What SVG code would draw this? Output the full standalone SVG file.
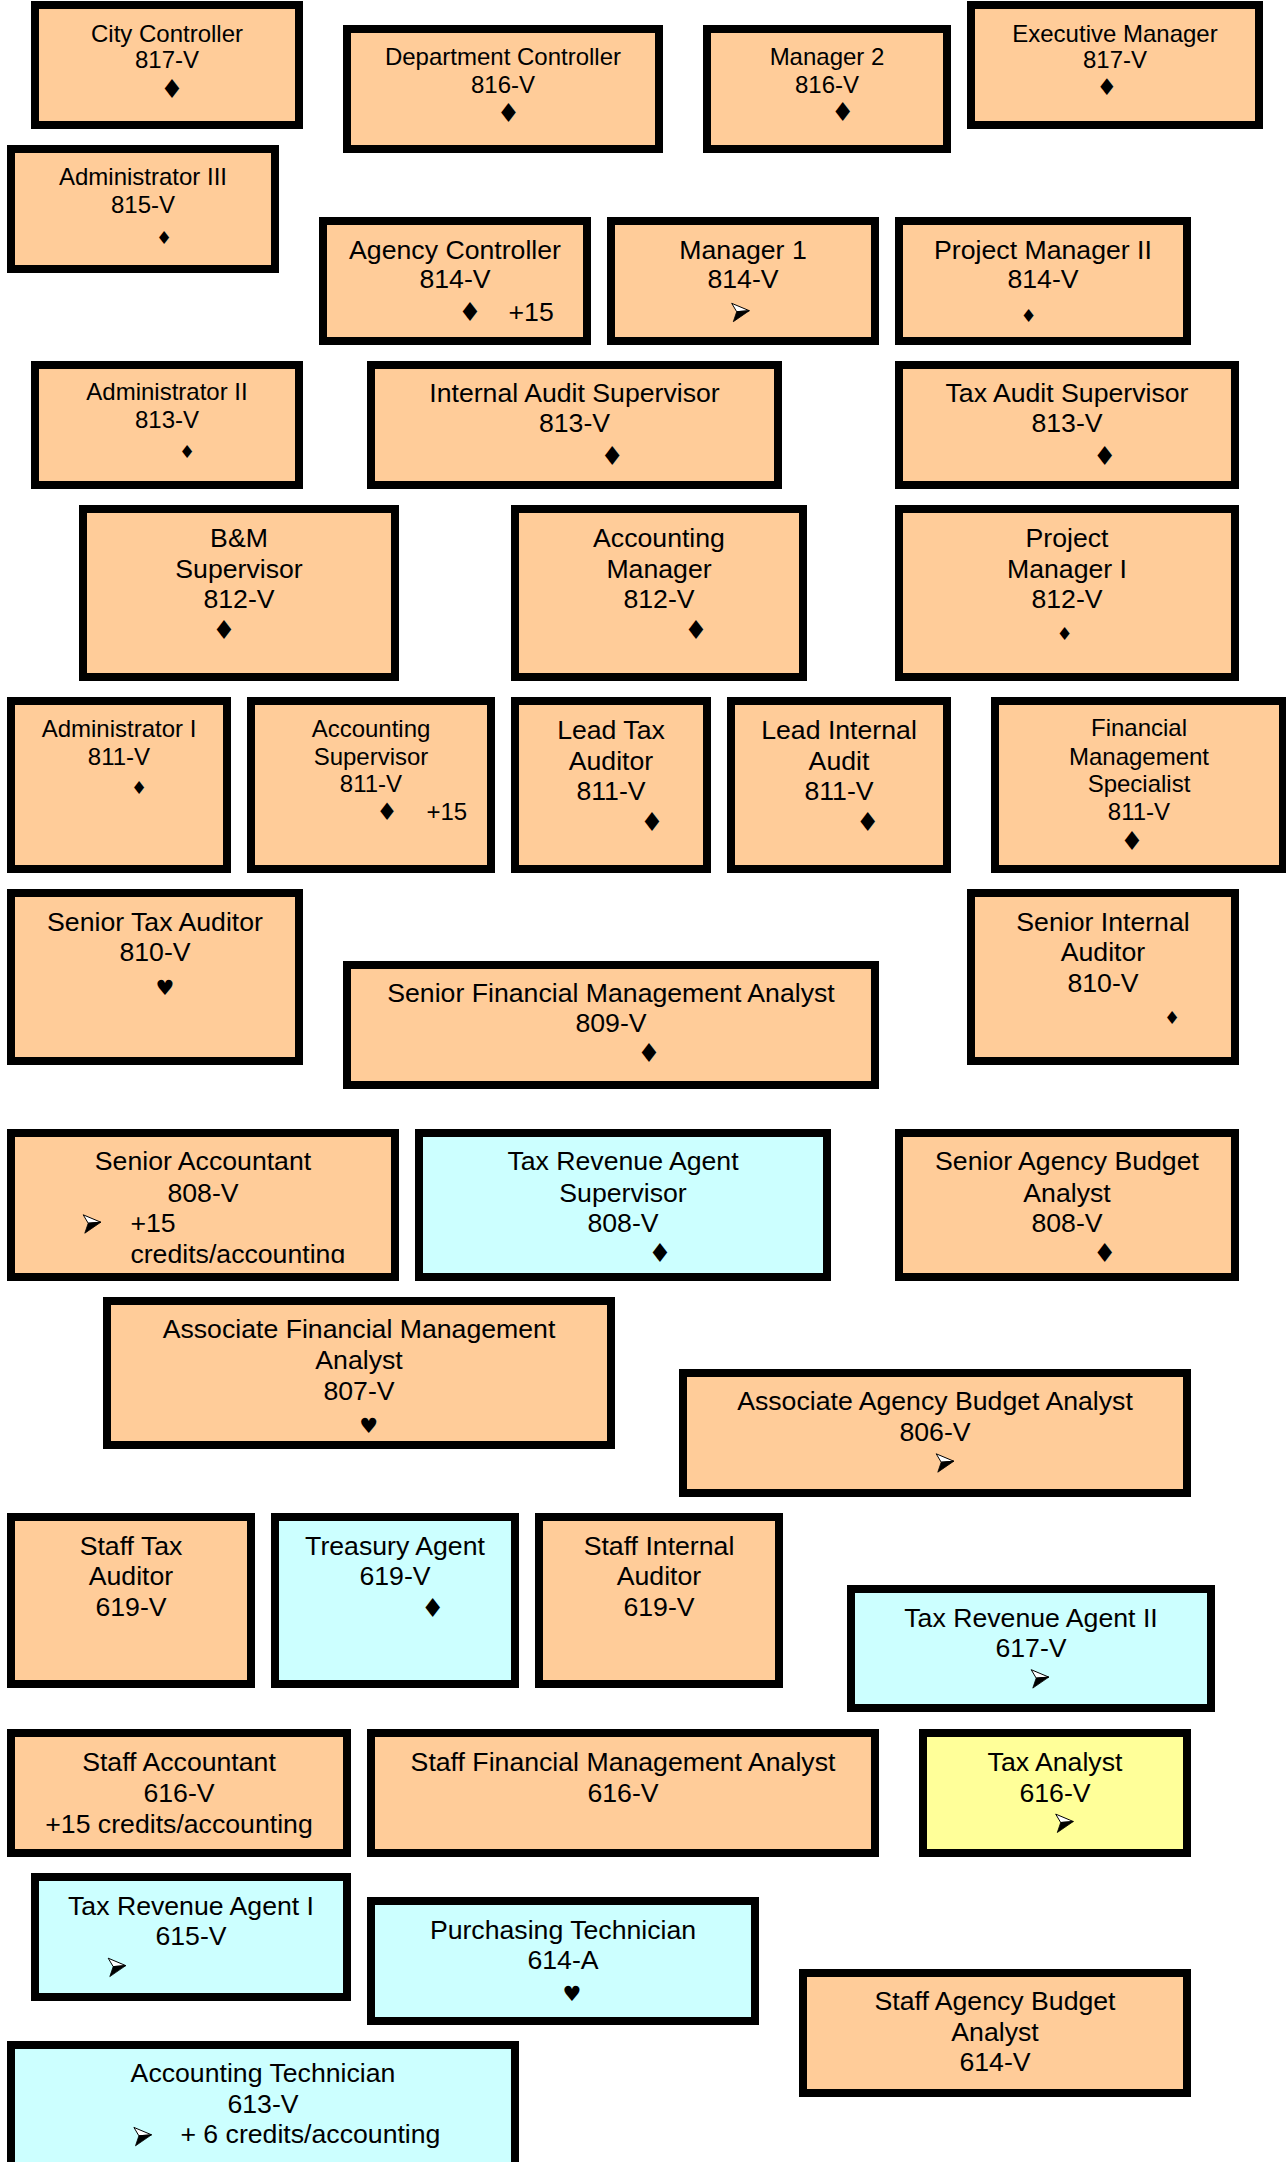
<svg xmlns="http://www.w3.org/2000/svg" xmlns:xlink="http://www.w3.org/1999/xlink" width="1286" height="2162" viewBox="0 0 1286 2162">
<style>
.b{stroke:#000;stroke-width:8}
.p{fill:#FFCC99}.c{fill:#CCFFFF}.y{fill:#FFFF99}
.t{font-family:"Liberation Sans",Arial,sans-serif;font-size:26.67px;text-anchor:middle;fill:#000}
.s{font-size:24px}
.l{text-anchor:start}
.d,.ds,.h{font-family:"DejaVu Sans",sans-serif;text-anchor:middle;dominant-baseline:central;fill:#000}
.d{font-size:26px}.ds{font-size:18px}.h{font-size:21px}
</style>
<defs>
<clipPath id="clipSA"><rect x="15" y="1137" width="376" height="126"/></clipPath>
<g id="arw">
<path d="M8.8,-1.8 L-8.8,-9.2 L-3.8,-0.8 Z" fill="#fff" stroke="#000" stroke-width="1" stroke-linejoin="miter"/>
<path d="M8.8,-1.8 L-3.8,-0.8 L-7.2,9.2 Z" fill="#000" stroke="#000" stroke-width="0.8"/>
</g>
</defs>
<rect width="1286" height="2162" fill="#fff"/>
<g id="connectors"/>

<g id="city-controller"><rect class="b p" x="35" y="5" width="264" height="120"/>
<text class="t s"><tspan x="167" y="41.7">City Controller</tspan><tspan x="167" y="68.3">817-V</tspan></text>
<text class="d" x="172" y="89">♦</text></g>

<g id="department-controller"><rect class="b p" x="347" y="29" width="312" height="120"/>
<text class="t s"><tspan x="503" y="65">Department Controller</tspan><tspan x="503" y="92.7">816-V</tspan></text>
<text class="d" x="508.5" y="113.3">♦</text></g>

<g id="manager-2"><rect class="b p" x="707" y="29" width="240" height="120"/>
<text class="t s"><tspan x="827" y="65">Manager 2</tspan><tspan x="827" y="92.7">816-V</tspan></text>
<text class="d" x="842.7" y="111.7">♦</text></g>

<g id="executive-manager"><rect class="b p" x="971" y="5" width="288" height="120"/>
<text class="t s"><tspan x="1115" y="41.7">Executive Manager</tspan><tspan x="1115" y="68.3">817-V</tspan></text>
<text class="d" x="1106.8" y="87.3" style="font-size:23px">♦</text></g>

<g id="administrator-iii"><rect class="b p" x="11" y="149" width="264" height="120"/>
<text class="t s"><tspan x="143" y="185">Administrator III</tspan><tspan x="143" y="212.7">815-V</tspan></text>
<text class="ds" x="164" y="237.7">♦</text></g>

<g id="agency-controller"><rect class="b p" x="323" y="221" width="264" height="120"/>
<text class="t"><tspan x="455" y="259.3">Agency Controller</tspan><tspan x="455" y="288.3">814-V</tspan></text>
<text class="d" x="470" y="311.7">♦</text>
<text class="t l" x="508.5" y="320.7">+15</text></g>

<g id="manager-1"><rect class="b p" x="611" y="221" width="264" height="120"/>
<text class="t"><tspan x="743" y="259.3">Manager 1</tspan><tspan x="743" y="288.3">814-V</tspan></text>
<use xlink:href="#arw" href="#arw" x="740.5" y="312.5"/></g>

<g id="project-manager-ii"><rect class="b p" x="899" y="221" width="288" height="120"/>
<text class="t"><tspan x="1043" y="259.3">Project Manager II</tspan><tspan x="1043" y="288.3">814-V</tspan></text>
<text class="ds" x="1028.5" y="315">♦</text></g>

<g id="administrator-ii"><rect class="b p" x="35" y="365" width="264" height="120"/>
<text class="t s"><tspan x="167" y="400">Administrator II</tspan><tspan x="167" y="427.7">813-V</tspan></text>
<text class="ds" x="187" y="451.7">♦</text></g>

<g id="internal-audit-supervisor"><rect class="b p" x="371" y="365" width="407" height="120"/>
<text class="t"><tspan x="574.5" y="401.7">Internal Audit Supervisor</tspan><tspan x="574.5" y="432.3">813-V</tspan></text>
<text class="d" x="612.2" y="455.7">♦</text></g>

<g id="tax-audit-supervisor"><rect class="b p" x="899" y="365" width="336" height="120"/>
<text class="t"><tspan x="1067" y="401.7">Tax Audit Supervisor</tspan><tspan x="1067" y="432.3">813-V</tspan></text>
<text class="d" x="1104.7" y="455.7">♦</text></g>

<g id="bm-supervisor"><rect class="b p" x="83" y="509" width="312" height="168"/>
<text class="t"><tspan x="239" y="546.6">B&amp;M</tspan><tspan x="239" y="578">Supervisor</tspan><tspan x="239" y="608.4">812-V</tspan></text>
<text class="d" x="224" y="630">♦</text></g>

<g id="accounting-manager"><rect class="b p" x="515" y="509" width="288" height="168"/>
<text class="t"><tspan x="659" y="546.6">Accounting</tspan><tspan x="659" y="578">Manager</tspan><tspan x="659" y="608.4">812-V</tspan></text>
<text class="d" x="696" y="630">♦</text></g>

<g id="project-manager-i"><rect class="b p" x="899" y="509" width="336" height="168"/>
<text class="t"><tspan x="1067" y="546.6">Project</tspan><tspan x="1067" y="578">Manager I</tspan><tspan x="1067" y="608.4">812-V</tspan></text>
<text class="ds" x="1064.5" y="633.5">♦</text></g>

<g id="administrator-i"><rect class="b p" x="11" y="701" width="216" height="168"/>
<text class="t s"><tspan x="119" y="737">Administrator I</tspan><tspan x="119" y="765">811-V</tspan></text>
<text class="ds" x="139" y="787">♦</text></g>

<g id="accounting-supervisor"><rect class="b p" x="251" y="701" width="240" height="168"/>
<text class="t s"><tspan x="371" y="737">Accounting</tspan><tspan x="371" y="765">Supervisor</tspan><tspan x="371" y="791.5">811-V</tspan></text>
<text class="d" x="387" y="812" style="font-size:24px">♦</text>
<text class="t s l" x="426.5" y="819.6">+15</text></g>

<g id="lead-tax-auditor"><rect class="b p" x="515" y="701" width="192" height="168"/>
<text class="t"><tspan x="611" y="739">Lead Tax</tspan><tspan x="611" y="769.7">Auditor</tspan><tspan x="611" y="800">811-V</tspan></text>
<text class="d" x="652" y="822">♦</text></g>

<g id="lead-internal-audit"><rect class="b p" x="731" y="701" width="216" height="168"/>
<text class="t"><tspan x="839" y="739">Lead Internal</tspan><tspan x="839" y="769.7">Audit</tspan><tspan x="839" y="800">811-V</tspan></text>
<text class="d" x="867.7" y="822">♦</text></g>

<g id="financial-management-specialist"><rect class="b p" x="995" y="701" width="288" height="168"/>
<text class="t s"><tspan x="1139" y="736.4">Financial</tspan><tspan x="1139" y="765">Management</tspan><tspan x="1139" y="792">Specialist</tspan><tspan x="1139" y="819.6">811-V</tspan></text>
<text class="d" x="1131.8" y="840.7">♦</text></g>

<g id="senior-tax-auditor"><rect class="b p" x="11" y="893" width="288" height="168"/>
<text class="t"><tspan x="155" y="930.6">Senior Tax Auditor</tspan><tspan x="155" y="961">810-V</tspan></text>
<text class="h" x="165" y="987.6">♥</text></g>

<g id="senior-financial-management-analyst"><rect class="b p" x="347" y="965" width="528" height="120"/>
<text class="t"><tspan x="611" y="1001.6">Senior Financial Management Analyst</tspan><tspan x="611" y="1032.3">809-V</tspan></text>
<text class="d" x="649" y="1053">♦</text></g>

<g id="senior-internal-auditor"><rect class="b p" x="971" y="893" width="264" height="168"/>
<text class="t"><tspan x="1103" y="930.6">Senior Internal</tspan><tspan x="1103" y="961">Auditor</tspan><tspan x="1103" y="992.4">810-V</tspan></text>
<text class="ds" x="1172" y="1017.5">♦</text></g>

<g id="senior-accountant"><rect class="b p" x="11" y="1133" width="384" height="144"/>
<text class="t"><tspan x="203" y="1170">Senior Accountant</tspan><tspan x="203" y="1201.7">808-V</tspan></text>
<use xlink:href="#arw" href="#arw" x="92" y="1224"/>
<g clip-path="url(#clipSA)"><text class="t l"><tspan x="130.4" y="1232.4">+15</tspan><tspan x="130.4" y="1263">credits/accounting</tspan></text></g></g>

<g id="tax-revenue-agent-supervisor"><rect class="b c" x="419" y="1133" width="408" height="144"/>
<text class="t"><tspan x="623" y="1170">Tax Revenue Agent</tspan><tspan x="623" y="1201.7">Supervisor</tspan><tspan x="623" y="1232.4">808-V</tspan></text>
<text class="d" x="660" y="1253">♦</text></g>

<g id="senior-agency-budget-analyst"><rect class="b p" x="899" y="1133" width="336" height="144"/>
<text class="t"><tspan x="1067" y="1170">Senior Agency Budget</tspan><tspan x="1067" y="1201.7">Analyst</tspan><tspan x="1067" y="1232.4">808-V</tspan></text>
<text class="d" x="1104.7" y="1253">♦</text></g>

<g id="associate-financial-management-analyst"><rect class="b p" x="107" y="1301" width="504" height="144"/>
<text class="t"><tspan x="359" y="1338">Associate Financial Management</tspan><tspan x="359" y="1369">Analyst</tspan><tspan x="359" y="1400.4">807-V</tspan></text>
<text class="h" x="368.7" y="1425.5">♥</text></g>

<g id="associate-agency-budget-analyst"><rect class="b p" x="683" y="1373" width="504" height="120"/>
<text class="t"><tspan x="935" y="1410">Associate Agency Budget Analyst</tspan><tspan x="935" y="1441">806-V</tspan></text>
<use xlink:href="#arw" href="#arw" x="945" y="1463"/></g>

<g id="staff-tax-auditor"><rect class="b p" x="11" y="1517" width="240" height="167"/>
<text class="t"><tspan x="131" y="1554.6">Staff Tax</tspan><tspan x="131" y="1585.3">Auditor</tspan><tspan x="131" y="1616">619-V</tspan></text></g>

<g id="treasury-agent"><rect class="b c" x="275" y="1517" width="240" height="167"/>
<text class="t"><tspan x="395" y="1554.6">Treasury Agent</tspan><tspan x="395" y="1585.3">619-V</tspan></text>
<text class="d" x="432.6" y="1607.6">♦</text></g>

<g id="staff-internal-auditor"><rect class="b p" x="539" y="1517" width="240" height="167"/>
<text class="t"><tspan x="659" y="1554.6">Staff Internal</tspan><tspan x="659" y="1585.3">Auditor</tspan><tspan x="659" y="1616">619-V</tspan></text></g>

<g id="tax-revenue-agent-ii"><rect class="b c" x="851" y="1589" width="360" height="119"/>
<text class="t"><tspan x="1031" y="1626.9">Tax Revenue Agent II</tspan><tspan x="1031" y="1657.3">617-V</tspan></text>
<use xlink:href="#arw" href="#arw" x="1040" y="1678.9"/></g>

<g id="staff-accountant"><rect class="b p" x="11" y="1733" width="336" height="120"/>
<text class="t"><tspan x="179" y="1771.3">Staff Accountant</tspan><tspan x="179" y="1801.8">616-V</tspan><tspan x="179" y="1833">+15 credits/accounting</tspan></text></g>

<g id="staff-financial-management-analyst"><rect class="b p" x="371" y="1733" width="504" height="120"/>
<text class="t"><tspan x="623" y="1771.3">Staff Financial Management Analyst</tspan><tspan x="623" y="1801.8">616-V</tspan></text></g>

<g id="tax-analyst"><rect class="b y" x="923" y="1733" width="264" height="120"/>
<text class="t"><tspan x="1055" y="1771.3">Tax Analyst</tspan><tspan x="1055" y="1801.8">616-V</tspan></text>
<use xlink:href="#arw" href="#arw" x="1064.5" y="1823.3"/></g>

<g id="tax-revenue-agent-i"><rect class="b c" x="35" y="1877" width="312" height="120"/>
<text class="t"><tspan x="191" y="1914.7">Tax Revenue Agent I</tspan><tspan x="191" y="1944.8">615-V</tspan></text>
<use xlink:href="#arw" href="#arw" x="117" y="1967.4"/></g>

<g id="purchasing-technician"><rect class="b c" x="371" y="1901" width="384" height="120"/>
<text class="t"><tspan x="563" y="1938.7">Purchasing Technician</tspan><tspan x="563" y="1969">614-A</tspan></text>
<text class="h" x="572" y="1994">♥</text></g>

<g id="staff-agency-budget-analyst"><rect class="b p" x="803" y="1973" width="384" height="120"/>
<text class="t"><tspan x="995" y="2010.4">Staff Agency Budget</tspan><tspan x="995" y="2040.9">Analyst</tspan><tspan x="995" y="2071.3">614-V</tspan></text></g>

<g id="accounting-technician"><rect class="b c" x="11" y="2045" width="504" height="160"/>
<text class="t"><tspan x="263" y="2082">Accounting Technician</tspan><tspan x="263" y="2112.5">613-V</tspan></text>
<use xlink:href="#arw" href="#arw" x="142.7" y="2136.6"/>
<text class="t l" x="180.4" y="2143">+ 6 credits/accounting</text></g>
</svg>
